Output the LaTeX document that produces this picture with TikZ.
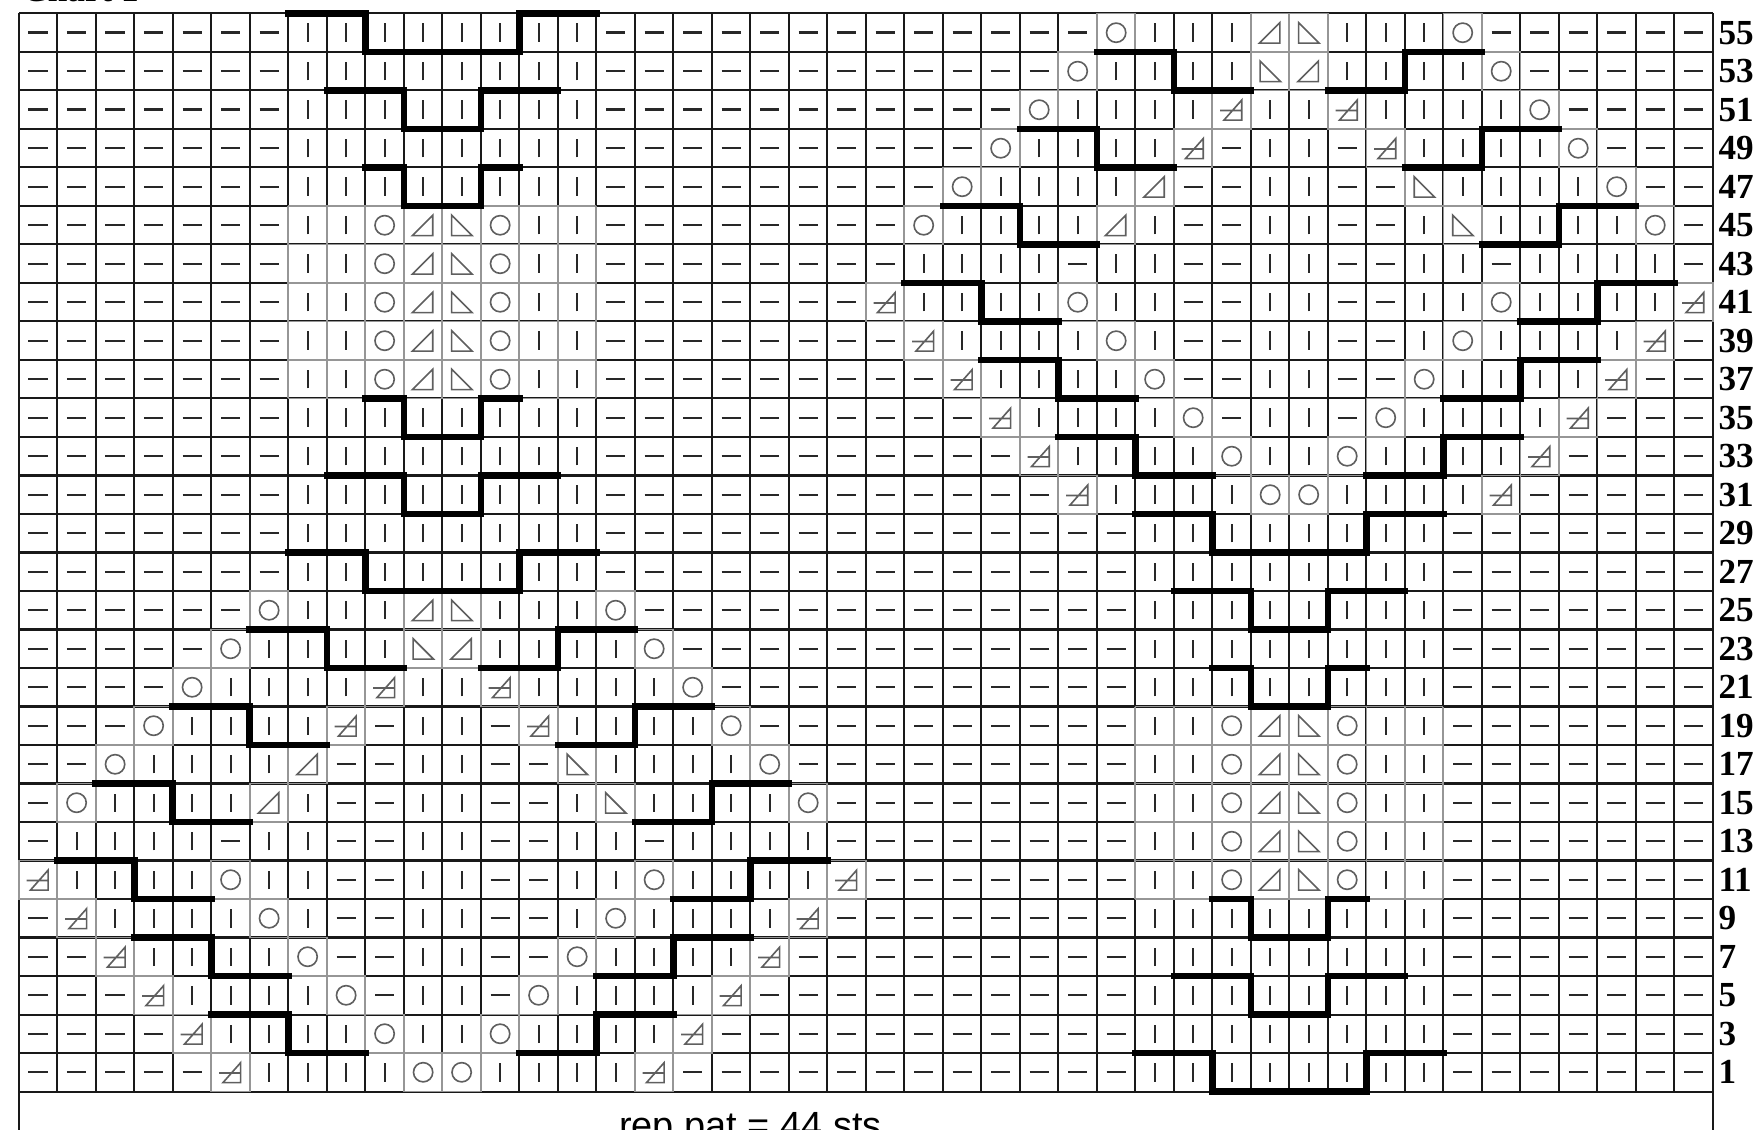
\documentclass[tikz,border=0pt]{standalone}
\usepackage{fontspec}
\usepackage{tikz}
\newfontfamily\rowfont{Liberation Serif}
\newfontfamily\notefont{Liberation Sans}
\definecolor{GridInk}{RGB}{25,25,25}
\definecolor{FrameGray}{RGB}{150,150,150}
\definecolor{MarkInk}{RGB}{40,40,40}
\definecolor{MarkGray}{RGB}{95,95,95}
\newcount\stcol
\tikzset{
  gridline/.style={draw=GridInk, line width=0.75pt, step=1},
  blockgrid/.style={draw=FrameGray, line width=0.7pt, step=1},
  cellframe/.style={draw=FrameGray, line width=0.7pt},
  chartline/.style={draw=black, line width=2.5pt, line cap=rect, line join=miter},
  purlmark/.style={draw=MarkInk, line width=0.9pt},
  knitmark/.style={draw=MarkInk, line width=0.8pt},
  yomark/.style={draw=MarkGray, line width=0.6pt},
  decmark/.style={draw=MarkGray, line width=0.6pt, line join=miter},
  rowlabel/.style={font={\rowfont\bfseries\fontsize{13}{15}\selectfont}, inner sep=0pt, anchor=west},
  st-p/.pic={\draw[purlmark] (-0.25,0) -- (0.25,0);},
  st-k/.pic={\draw[knitmark] (0,-0.24) -- (0,0.24);},
  st-o/.pic={\draw[cellframe] (-0.5,-0.5) rectangle (0.5,0.5);
             \draw[yomark] (0,0) circle[radius=0.125cm];},
  st-a/.pic={\draw[cellframe] (-0.5,-0.5) rectangle (0.5,0.5);
             \draw[decmark] (-0.28,-0.27) -- (0.25,-0.27) -- (0.25,0.26) -- cycle;},
  st-b/.pic={\draw[cellframe] (-0.5,-0.5) rectangle (0.5,0.5);
             \draw[decmark] (-0.26,0.26) -- (-0.26,-0.27) -- (0.27,-0.27) -- cycle;},
  st-c/.pic={\draw[cellframe] (-0.5,-0.5) rectangle (0.5,0.5);
             \draw[decmark] (-0.2,-0.27) -- (0.26,-0.27) -- (0.26,0.25) -- cycle
                            (-0.3,-0.02) -- (0.26,-0.02);},
}

\begin{document}
\begin{tikzpicture}[x=0.5cm, y=0.5cm]
  \useasboundingbox (-0.49,-0.99) rectangle (45.04,28.35);
  % grid and the open box below it
  \draw[gridline] (0,0) grid (44,28);
  \draw[gridline] (0,0) -- (0,-1.3) (44,0) -- (44,-1.3);
  \foreach \bx/\by in {7/18, 29/5}
    \draw[blockgrid] (\bx,\by) grid ({\bx+8},{\by+5});

  % stitches, row by row from the top (count/symbol)
  \foreach \rw/\runs in {
    28/{7/p,8/k,13/p,1/o,3/k,1/a,1/b,3/k,1/o,6/p},
    27/{7/p,8/k,12/p,1/o,4/k,1/b,1/a,4/k,1/o,5/p},
    26/{7/p,8/k,11/p,1/o,4/k,1/c,2/k,1/c,4/k,1/o,4/p},
    25/{7/p,8/k,10/p,1/o,4/k,1/c,1/p,2/k,1/p,1/c,4/k,1/o,3/p},
    24/{7/p,8/k,9/p,1/o,4/k,1/a,2/p,2/k,2/p,1/b,4/k,1/o,2/p},
    23/{7/p,2/k,1/o,1/a,1/b,1/o,2/k,8/p,1/o,4/k,1/a,1/k,2/p,2/k,2/p,1/k,1/b,4/k,1/o,1/p},
    22/{7/p,2/k,1/o,1/a,1/b,1/o,2/k,8/p,4/k,1/p,2/k,2/p,2/k,2/p,2/k,1/p,4/k,1/p},
    21/{7/p,2/k,1/o,1/a,1/b,1/o,2/k,7/p,1/c,4/k,1/o,2/k,2/p,2/k,2/p,2/k,1/o,4/k,1/c},
    20/{7/p,2/k,1/o,1/a,1/b,1/o,2/k,8/p,1/c,4/k,1/o,1/k,2/p,2/k,2/p,1/k,1/o,4/k,1/c,1/p},
    19/{7/p,2/k,1/o,1/a,1/b,1/o,2/k,9/p,1/c,4/k,1/o,2/p,2/k,2/p,1/o,4/k,1/c,2/p},
    18/{7/p,8/k,10/p,1/c,4/k,1/o,1/p,2/k,1/p,1/o,4/k,1/c,3/p},
    17/{7/p,8/k,11/p,1/c,4/k,1/o,2/k,1/o,4/k,1/c,4/p},
    16/{7/p,8/k,12/p,1/c,4/k,2/o,4/k,1/c,5/p},
    15/{7/p,8/k,14/p,8/k,7/p},
    14/{7/p,8/k,14/p,8/k,7/p},
    13/{6/p,1/o,3/k,1/a,1/b,3/k,1/o,13/p,8/k,7/p},
    12/{5/p,1/o,4/k,1/b,1/a,4/k,1/o,12/p,8/k,7/p},
    11/{4/p,1/o,4/k,1/c,2/k,1/c,4/k,1/o,11/p,8/k,7/p},
    10/{3/p,1/o,4/k,1/c,1/p,2/k,1/p,1/c,4/k,1/o,10/p,2/k,1/o,1/a,1/b,1/o,2/k,7/p},
    9/{2/p,1/o,4/k,1/a,2/p,2/k,2/p,1/b,4/k,1/o,9/p,2/k,1/o,1/a,1/b,1/o,2/k,7/p},
    8/{1/p,1/o,4/k,1/a,1/k,2/p,2/k,2/p,1/k,1/b,4/k,1/o,8/p,2/k,1/o,1/a,1/b,1/o,2/k,7/p},
    7/{1/p,4/k,1/p,2/k,2/p,2/k,2/p,2/k,1/p,4/k,8/p,2/k,1/o,1/a,1/b,1/o,2/k,7/p},
    6/{1/c,4/k,1/o,2/k,2/p,2/k,2/p,2/k,1/o,4/k,1/c,7/p,2/k,1/o,1/a,1/b,1/o,2/k,7/p},
    5/{1/p,1/c,4/k,1/o,1/k,2/p,2/k,2/p,1/k,1/o,4/k,1/c,8/p,8/k,7/p},
    4/{2/p,1/c,4/k,1/o,2/p,2/k,2/p,1/o,4/k,1/c,9/p,8/k,7/p},
    3/{3/p,1/c,4/k,1/o,1/p,2/k,1/p,1/o,4/k,1/c,10/p,8/k,7/p},
    2/{4/p,1/c,4/k,1/o,2/k,1/o,4/k,1/c,11/p,8/k,7/p},
    1/{5/p,1/c,4/k,2/o,4/k,1/c,12/p,8/k,7/p}}{
    \global\stcol=0
    \foreach \cnt/\st in \runs {
      \foreach \j in {1,...,\cnt} {
        \global\advance\stcol by 1
        \pic at (\the\stcol-0.5,\rw-0.5) {st-\st};
      }
    }
  }

  % cable outlines
  \foreach \dx/\dy in {0/0, 22/-13} {
    \begin{scope}[shift={(\dx,\dy)}]
      \draw[chartline] (7,28) -| (9,27) -| (13,28) -- (15,28);
      \draw[chartline] (8,26) -| (10,25) -| (12,26) -- (14,26);
      \draw[chartline] (9,24) -| (10,23) -| (12,24) -- (13,24);
      \draw[chartline] (9,18) -| (10,17) -| (12,18) -- (13,18);
      \draw[chartline] (8,16) -| (10,15) -| (12,16) -- (14,16);
      \draw[chartline] (7,14) -| (9,13) -| (13,14) -- (15,14);
    \end{scope}
  }
  \foreach \dx/\dy in {0/0, 22/15} {
    \begin{scope}[shift={(\dx,\dy)}]
      \draw[chartline] (6,12) -| (8,11) -- (10,11);
      \draw[chartline] (12,11) -| (14,12) -- (16,12);
      \draw[chartline] (4,10) -| (6,9) -- (8,9);
      \draw[chartline] (14,9) -| (16,10) -- (18,10);
      \draw[chartline] (2,8) -| (4,7) -- (6,7);
      \draw[chartline] (16,7) -| (18,8) -- (20,8);
      \draw[chartline] (1,6) -| (3,5) -- (5,5);
      \draw[chartline] (17,5) -| (19,6) -- (21,6);
      \draw[chartline] (3,4) -| (5,3) -- (7,3);
      \draw[chartline] (15,3) -| (17,4) -- (19,4);
      \draw[chartline] (5,2) -| (7,1) -- (9,1);
      \draw[chartline] (13,1) -| (15,2) -- (17,2);
    \end{scope}
  }

  % row numbers
  \foreach \rw in {1,...,28} {
    \pgfmathtruncatemacro{\rnum}{2*\rw-1}
    \node[rowlabel] (row\rnum) at (44.13,\rw-0.5) {\rnum};
  }

  \node[anchor=base west, inner sep=0pt, font={\rowfont\bfseries\fontsize{13}{15}\selectfont}]
    (charttitle) at (0.08,28.3) {Chart 1};
  \node[anchor=base, inner sep=0pt, font={\notefont\fontsize{14}{16}\selectfont}]
    (reppat) at (19.0,-1.22) {rep pat = 44 sts};
\end{tikzpicture}
\end{document}
